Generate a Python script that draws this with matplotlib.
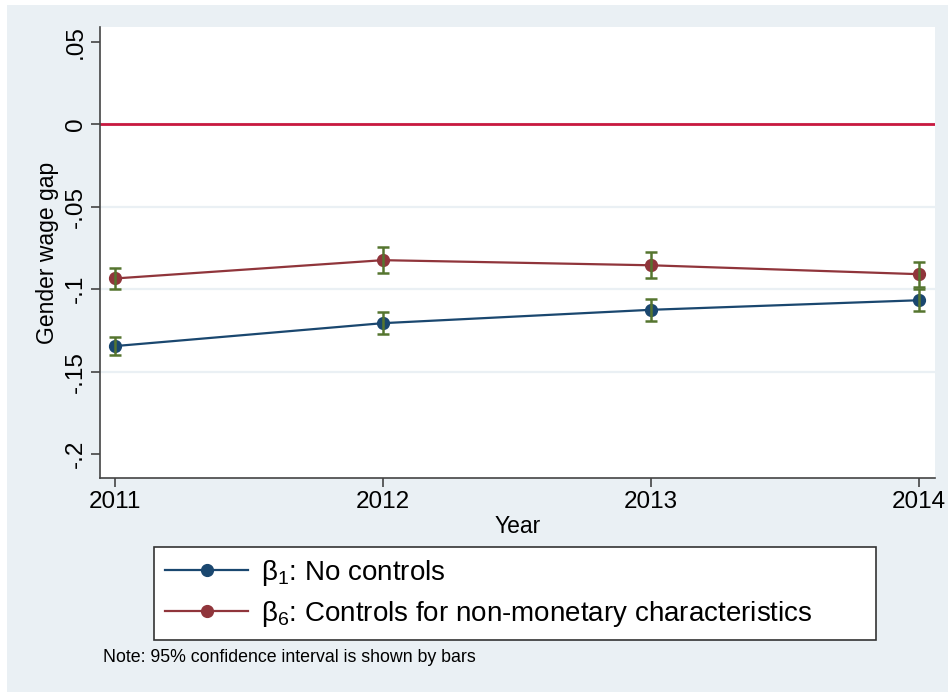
import matplotlib
matplotlib.use("Agg")
import matplotlib.pyplot as plt
from matplotlib.patches import Rectangle
from matplotlib.lines import Line2D

plt.rcParams['font.family'] = ['Liberation Sans', 'DejaVu Sans']
plt.rcParams['mathtext.fontset'] = 'custom'
plt.rcParams['mathtext.rm'] = 'Liberation Sans'
plt.rcParams['mathtext.it'] = 'Liberation Sans'

# data
years = [2011, 2012, 2013, 2014]
b1_coef = [-0.1345, -0.1206, -0.1125, -0.1067]
b1_ci = [0.0053, 0.0068, 0.0068, 0.0066]
b6_coef = [-0.0935, -0.0824, -0.0855, -0.0909]
b6_ci = [0.0064, 0.0080, 0.0079, 0.0075]
yticks = [0.05, 0, -0.05, -0.1, -0.15, -0.2]
ytick_labels = ['.05', '0', '-.05', '-.1', '-.15', '-.2']
labels = ['β$_{1}$: No controls',
          'β$_{6}$: Controls for non-monetary characteristics']

bg = '#eaf0f4'
blue = '#1a476f'
red = '#90353b'
green = '#55752f'
zero_red = '#c8183f'

W, H = 948, 692
fig = plt.figure(figsize=(W / 100, H / 100), dpi=100)
fig.patch.set_facecolor('white')
fig.patches.append(Rectangle((7 / W, 0), 1, 1 - 5 / H, transform=fig.transFigure,
                             facecolor=bg, edgecolor='none', zorder=-10))

ax = fig.add_axes([100 / W, 1 - 478 / H, 835 / W, 451 / H])
ax.set_facecolor('white')

ax.axhline(0, color=zero_red, lw=2.0, zorder=2)

ax.plot(years, b1_coef, '-o', color=blue, lw=1.6, markersize=8.5, zorder=3)
ax.plot(years, b6_coef, '-o', color=red, lw=1.6, markersize=8.5, zorder=3)
ax.errorbar(years, b1_coef, yerr=b1_ci, fmt='none', ecolor=green, elinewidth=1.8,
            capsize=4, capthick=1.8, zorder=4)
ax.errorbar(years, b6_coef, yerr=b6_ci, fmt='none', ecolor=green, elinewidth=1.8,
            capsize=4, capthick=1.8, zorder=4)

ax.set_xlim(2010.944, 2014.06)
ax.set_ylim(-0.2145, 0.059)
ax.set_xticks(years)
ax.set_xticklabels([str(y) for y in years], fontsize=17.5)
ax.set_yticks(yticks)
ax.set_yticklabels(ytick_labels, fontsize=17.5, rotation=90, va='center')

ax.yaxis.grid(True, color=bg, lw=1.6, zorder=1)
for gl, v in zip(ax.get_ygridlines(), yticks):
    if v in (0.05, -0.2):
        gl.set_visible(False)

for s in ['top', 'right']:
    ax.spines[s].set_visible(False)
for s in ['left', 'bottom']:
    ax.spines[s].set_color('#444444')
    ax.spines[s].set_linewidth(1.2)
ax.tick_params(direction='out', length=6.5, width=1.2, color='#444444', pad=3)

ax.set_xlabel('Year', fontsize=16.5, labelpad=1)
ax.set_ylabel('Gender wage gap', fontsize=16.5, labelpad=4)

handles = [Line2D([], [], color=blue, lw=1.6, marker='o', markersize=8.5),
           Line2D([], [], color=red, lw=1.6, marker='o', markersize=8.5)]
leg = fig.legend(handles, labels, loc='upper left',
                 bbox_to_anchor=(154 / W, 1 - 637 / H, 722 / W, 90 / H),
                 mode='expand', fontsize=20, frameon=True, fancybox=False,
                 handlelength=3.0, handletextpad=0.45, labelspacing=0.38,
                 borderpad=0.4, borderaxespad=0)
leg.get_frame().set_edgecolor('#333333')
leg.get_frame().set_linewidth(1.2)
leg.get_frame().set_facecolor('white')
leg.get_frame().set_alpha(1)

fig.text(103 / W, 1 - 657 / H, 'Note: 95% confidence interval is shown by bars',
         fontsize=12.8, va='center', ha='left')

fig.savefig('out.png', dpi=100, facecolor=fig.get_facecolor())
